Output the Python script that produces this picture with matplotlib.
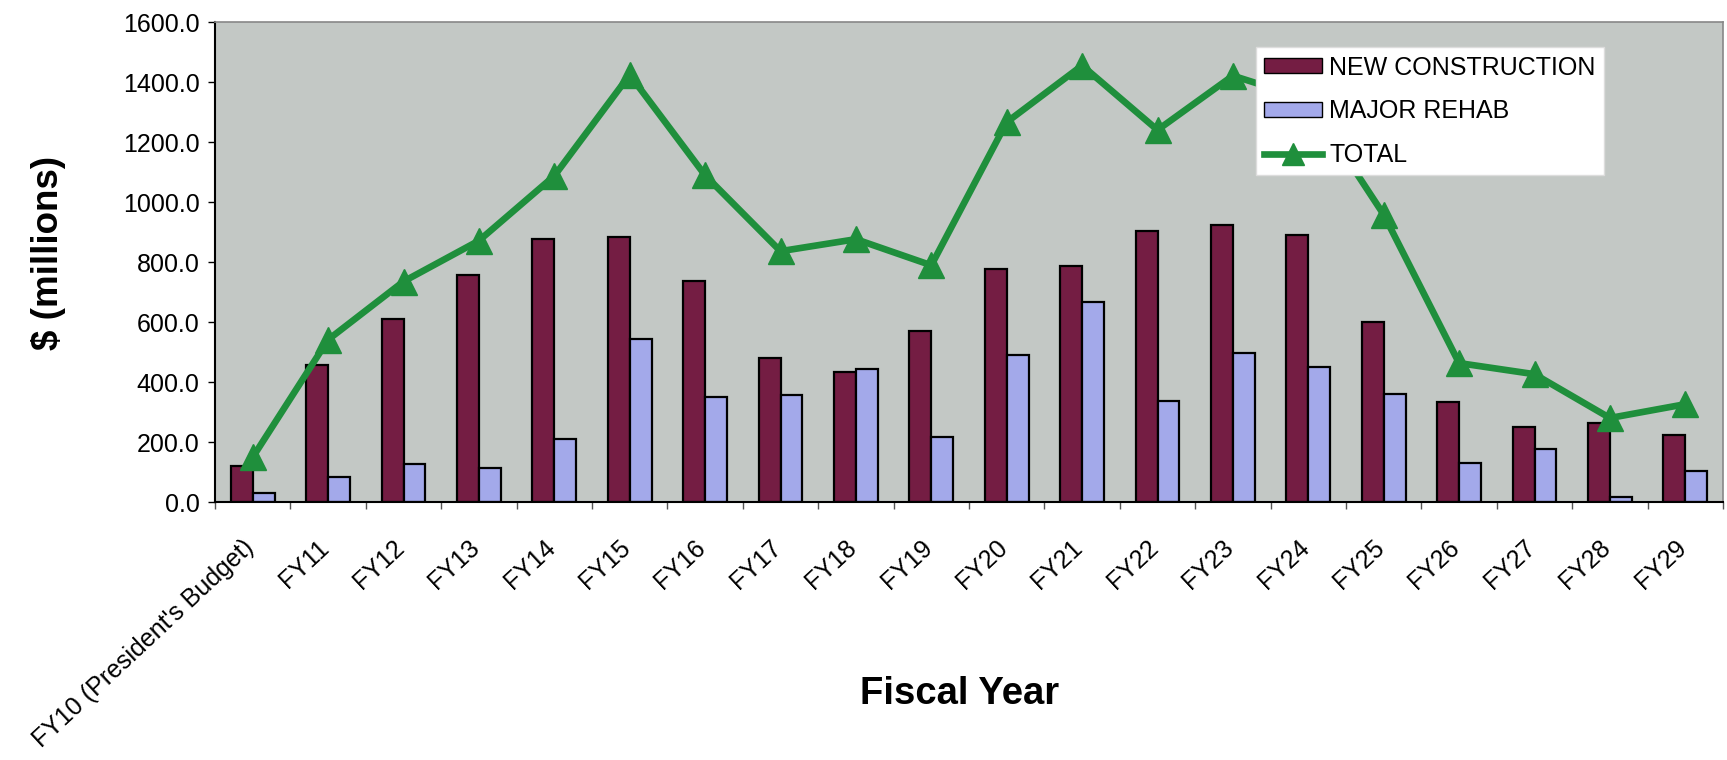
import matplotlib
matplotlib.use("Agg")
import matplotlib.pyplot as plt
import matplotlib.transforms as mtransforms
import numpy as np
from matplotlib.patches import Patch
from matplotlib.lines import Line2D

plt.rcParams['font.family'] = ['Liberation Sans', 'DejaVu Sans']

categories = ["FY10 (President's Budget)", "FY11", "FY12", "FY13", "FY14", "FY15",
              "FY16", "FY17", "FY18", "FY19", "FY20", "FY21", "FY22", "FY23",
              "FY24", "FY25", "FY26", "FY27", "FY28", "FY29"]
new_construction = [120, 457, 609, 757, 877, 882, 738, 479, 434, 571,
                    776, 787, 903, 925, 890, 599, 334, 249, 262, 223]
major_rehab = [29, 84, 126, 114, 210, 542, 351, 357, 442, 218,
               490, 668, 337, 496, 451, 359, 129, 177, 18, 103]
total = [149, 541, 735, 871, 1087, 1424, 1089, 836, 876, 789,
         1266, 1455, 1240, 1421, 1341, 958, 463, 426, 280, 326]
yticks = [0, 200, 400, 600, 800, 1000, 1200, 1400, 1600]

nc_color = '#741d43'
mr_color = '#a3a9ea'
tot_color = '#1f8f3c'
bg_color = '#c3c8c5'

fig = plt.figure(figsize=(17.27, 7.6), dpi=100)
ax = fig.add_axes([215/1727, 1-502/760, (1723-215)/1727, (502-22)/760])
ax.set_facecolor(bg_color)

x = np.arange(len(categories))
w = 0.29
ax.bar(x - w/2, new_construction, w, color=nc_color, edgecolor='black', linewidth=1.6, zorder=2)
ax.bar(x + w/2, major_rehab, w, color=mr_color, edgecolor='black', linewidth=1.6, zorder=2)
ax.plot(x, total, color=tot_color, linewidth=4.8, marker='^', markersize=19,
        markeredgecolor=tot_color, zorder=3)

ax.set_xlim(-0.5, len(categories) - 0.5)
ax.set_ylim(0, 1600)
ax.set_yticks(yticks)
ax.set_yticklabels([f"{v:.1f}" for v in yticks], fontsize=18)
ax.tick_params(axis='y', direction='out', length=5, width=1, pad=6)

ax.set_xticks(x)
ax.set_xticklabels(categories, fontsize=18, rotation=43, ha='right', va='top',
                   rotation_mode='anchor')
ax.tick_params(axis='x', which='major', length=0, pad=24)
offset = mtransforms.ScaledTranslation(-11/100, 0, fig.dpi_scale_trans)
for lbl in ax.get_xticklabels():
    lbl.set_transform(lbl.get_transform() + offset)
ax.set_xticks(np.arange(-0.5, len(categories)), minor=True)
ax.tick_params(axis='x', which='minor', direction='out', length=5, width=1, color='#555555')

for s in ['left', 'bottom']:
    ax.spines[s].set_color('black')
    ax.spines[s].set_linewidth(1.5)
for s in ['top', 'right']:
    ax.spines[s].set_color('#888888')
    ax.spines[s].set_linewidth(1.2)

handles = [Patch(facecolor=nc_color, edgecolor='black', label='NEW CONSTRUCTION'),
           Patch(facecolor=mr_color, edgecolor='black', label='MAJOR REHAB'),
           Line2D([0], [0], color=tot_color, linewidth=4.8, marker='^', markersize=16,
                  label='TOTAL')]
leg = ax.legend(handles=handles, loc='upper left', bbox_to_anchor=(0.690, 0.948),
                fontsize=18, frameon=True, fancybox=False, framealpha=1,
                edgecolor='#dddddd', handlelength=2.3, handleheight=0.55,
                labelspacing=0.78, handletextpad=0.3, borderpad=0.35,
                borderaxespad=0)
leg.set_zorder(5)

fig.text(49/1727, 1-253/760, '$ (millions)', rotation=90, fontsize=26.5,
         fontweight='bold', ha='center', va='center')
fig.text(960/1727, 1-694/760, 'Fiscal Year', fontsize=27.5, fontweight='bold',
         ha='center', va='center')

fig.savefig('out.png', dpi=100, facecolor='white')
